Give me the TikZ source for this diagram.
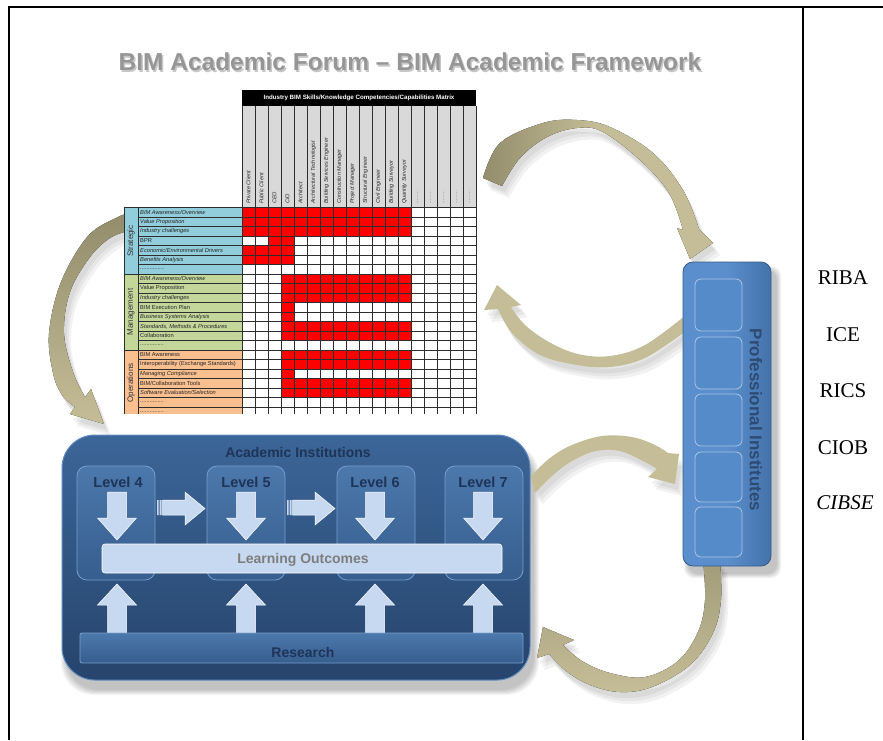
\documentclass[tikz,border=0pt]{standalone}
\usepackage{fontspec}
\setmainfont{Liberation Sans}
\newfontfamily\serifrm{Liberation Serif}
\newcommand\myfs[1]{\fontsize{#1}{#1}\selectfont}
\definecolor{arrL}{RGB}{196,189,151}
\definecolor{arrD}{RGB}{148,141,108}
\definecolor{aiTop}{RGB}{60,102,152}
\definecolor{aiBot}{RGB}{38,68,108}
\definecolor{aiEdge}{RGB}{96,140,192}
\definecolor{lvlTop}{RGB}{76,120,172}
\definecolor{lvlBot}{RGB}{54,94,142}
\definecolor{lvlEdge}{RGB}{120,158,204}
\definecolor{pale}{RGB}{198,217,241}
\definecolor{navy}{RGB}{30,52,88}
\definecolor{piTop}{RGB}{90,142,204}
\definecolor{piBot}{RGB}{68,114,170}
\definecolor{piSub}{RGB}{86,139,201}
\definecolor{piEdge}{RGB}{172,198,234}
\definecolor{piText}{RGB}{44,74,114}
\definecolor{ttl}{RGB}{150,150,150}
\definecolor{strat}{RGB}{146,205,220}
\definecolor{mgmt}{RGB}{196,215,155}
\definecolor{oper}{RGB}{250,191,143}
\definecolor{hdrg}{RGB}{217,217,217}
\definecolor{gridc}{RGB}{45,45,45}
\definecolor{cellred}{RGB}{255,0,0}
\definecolor{logray}{RGB}{125,125,125}
% curved arrows
\newcommand\arrA[1]{\fill[#1] plot[smooth,tension=0.6] coordinates {(483,178) (500,143) (543,123) (577,120) (610,127) (653,153) (683,190) (699,229)} -- (713,243) -- (690,259) -- (677,228) -- plot[smooth,tension=0.6] coordinates {(683,230) (669,193) (641,161) (603,132) (577,128) (547,137) (520,158) (502,186)} -- cycle;}
\newcommand\arrB[1]{\fill[#1] plot[smooth,tension=0.6] coordinates {(686,331) (645,358) (610,367) (577,365) (540,355) (512,333) (498,309)} -- (484,310) -- (497,285) -- (521,305) -- plot[smooth,tension=0.6] coordinates {(511,307) (525,325) (549,342) (578,354) (610,356) (645,345) (686,315)} -- cycle;}
\newcommand\arrC[1]{\fill[#1] plot[smooth,tension=0.6] coordinates {(531,476) (550,458) (572,445) (602,436) (632,437) (655,445) (668,453)} -- (679,454) -- (675,484) -- (648,477) -- plot[smooth,tension=0.6] coordinates {(657,469) (645,462) (620,451) (596,451) (572,461) (552,476) (535,493)} -- cycle;}
\newcommand\arrD[1]{\fill[#1] plot[smooth,tension=0.6] coordinates {(720,560) (721,600) (713,633) (690,665) (652,687) (620,692) (590,685) (566,671) (549,654)} -- (537,658) -- (543,627) -- (574,640) -- plot[smooth,tension=0.6] coordinates {(563,645) (582,661) (610,673) (645,677) (678,661) (698,632) (705,600) (703,560)} -- cycle;}
\newcommand\arrE[1]{\fill[#1] plot[smooth,tension=0.6] coordinates {(128,214) (118,217) (88,236) (61,282) (49,333) (53,373) (62,395) (75,407)} -- (70,414) -- (104,424) -- (91,389) -- plot[smooth,tension=0.6] coordinates {(85,397) (73,372) (64,333) (70,292) (90,257) (110,238) (128,231)} -- cycle;}
\newcommand\arrShadow[1]{%
  #1{black,opacity=0.05,shift={(3,6)}}%
  #1{black,opacity=0.05,shift={(5,9)}}%
  #1{black,opacity=0.05,shift={(7,12)}}}
% block arrows
\newcommand\dnarr[1]{\fill[pale,draw=white,line width=0.5] ({#1-9.5},492) -- ({#1+9.5},492) -- ({#1+9.5},518) -- ({#1+19.5},518) -- (#1,540) -- ({#1-19.5},518) -- ({#1-9.5},518) -- cycle;}
\newcommand\uparr[1]{\fill[pale,draw=white,line width=0.5] ({#1-9.5},633) -- ({#1+9.5},633) -- ({#1+9.5},605) -- ({#1+19.5},605) -- (#1,584) -- ({#1-19.5},605) -- ({#1-9.5},605) -- cycle;}
\newcommand\rtarr[1]{\fill[pale] (#1,500) rectangle ({#1+1.5},515) ({#1+2.5},500) rectangle ({#1+4.5},515);
  \fill[pale,draw=white,line width=0.5] ({#1+5.5},500) -- ({#1+28},500) -- ({#1+28},492) -- ({#1+48},508.5) -- ({#1+28},525) -- ({#1+28},515) -- ({#1+5.5},515) -- cycle;}
\newcommand\rowlab[3][rowlab]{\node[#1] (rl#2) at (140,{207.7+9.49*(#2+0.5)}) {#3};}
\begin{document}
\begin{tikzpicture}[x=1pt,y=-1pt,
  rowlab/.style={anchor=west,inner sep=0,font=\itshape\myfs{5.7},text=black!85},
  rowlabu/.style={anchor=west,inner sep=0,font=\myfs{5.7},text=black!85},
  collab/.style={anchor=west,rotate=90,inner sep=0,font=\itshape\myfs{5.5},text=black!85},
  dotlab/.style={anchor=west,rotate=90,inner sep=0,font=\myfs{5.4},text=black!50},
  catlab/.style={rotate=90,inner sep=0,font=\myfs{8},text=black!80},
  gridl/.style={draw=gridc,line width=0.75},
  aibox/.style={draw=aiEdge,line width=1,top color=aiTop,bottom color=aiBot,rounded corners=33,minimum width=468,minimum height=245,inner sep=0},
  lvlbox/.style={draw=lvlEdge,line width=0.8,top color=lvlTop,bottom color=lvlBot,rounded corners=10,minimum width=78,minimum height=114,inner sep=0},
  lvltxt/.style={font=\bfseries\myfs{14.5},text=navy,inner sep=0},
  pibox/.style={draw=piBot!80!black,line width=0.8,left color=piTop,right color=piBot,middle color=piTop,rounded corners=10,minimum width=88,minimum height=304,inner sep=0},
  pisub/.style={draw=piEdge,line width=0.8,fill=piSub,rounded corners=6,minimum width=47,inner sep=0},
  rtxt/.style={font=\serifrm\myfs{21},inner sep=0}]
\useasboundingbox (0,0) rectangle (883,740);
% frame
\draw[line width=1.6] (8,7) -- (883,7);
\draw[line width=1.6] (9,7) -- (9,740);
\draw[line width=1.6] (803,7) -- (803,740);
% title
\node[text=black!22,font=\bfseries\myfs{24.5},inner sep=0] (titlesh) at (411.5,63.5) {BIM Academic Forum \textendash{} BIM Academic Framework};
\node[text=ttl,font=\bfseries\myfs{24.5},inner sep=0] (title) at (410,62) {BIM Academic Forum \textendash{} BIM Academic Framework};
% box shadows
\foreach \k in {0,...,5}
  \fill[black,opacity=0.045,rounded corners=33] ({66-\k},{447-\k}) rectangle ({534+\k},{690+\k});
\foreach \k in {0,...,4}
  \fill[black,opacity=0.05,rounded corners=10] ({688-\k},{270-\k}) rectangle ({777+\k},{574+\k});
% curved arrows (left one under the matrix)
\arrShadow\arrE
\arrE{top color=arrD,bottom color=arrL}
% matrix
\begin{scope}
\clip (120,85) rectangle (480,413);
\fill[white] (124,90) rectangle (476,413);
\fill[black] (242,90) rectangle (476,106);
\fill[hdrg] (242,106) rectangle (476,207.7);
\fill[strat] (124,207.7) rectangle (242,274.13);
\fill[mgmt] (124,274.13) rectangle (242,350.05);
\fill[oper] (124,350.05) rectangle (242,420);
\foreach \r/\a/\b in {0/1/13,1/1/13,2/1/13,3/3/4,4/1/4,5/1/4,7/4/13,8/4/13,9/4/13,10/4/4,11/4/4,12/4/13,13/4/13,15/4/13,16/4/13,17/4/4,18/4/13,19/4/13}
  \fill[cellred] ({242+13*(\a-1)},{207.7+9.49*\r}) rectangle ({242+13*\b},{207.7+9.49*(\r+1)});
\foreach \k in {0,...,22} \draw[gridl] (138,{207.7+9.49*\k}) -- (476,{207.7+9.49*\k});
\foreach \i in {0,...,18} \draw[gridl] ({242+13*\i},106) -- ({242+13*\i},420);
\draw[gridl] (124,207.7) -- (138,207.7) (124,274.13) -- (138,274.13) (124,350.05) -- (138,350.05);
\draw[gridl] (124,207.7) -- (124,420) (138,207.7) -- (138,420);
\node[text=white,font=\bfseries\myfs{6.2},inner sep=0] (mtx) at (359,98) {Industry BIM Skills/Knowledge Competencies/Capabilities Matrix};
\node[catlab] (catS) at (131,241) {Strategic};
\node[catlab] (catM) at (131,312) {Management};
\node[catlab] (catO) at (131,383) {Operations};
\rowlab{0}{BIM Awareness/Overview}
\rowlab{1}{Value Proposition}
\rowlab{2}{Industry challenges}
\rowlab[rowlabu]{3}{BPR}
\rowlab{4}{Economic/Environmental Drivers}
\rowlab{5}{Benefits Analysis}
\rowlab[rowlabu]{6}{...............}
\rowlab{7}{BIM Awareness/Overview}
\rowlab[rowlabu]{8}{Value Proposition}
\rowlab{9}{Industry challenges}
\rowlab[rowlabu]{10}{BIM Execution Plan}
\rowlab{11}{Business Systems Analysis}
\rowlab{12}{Standards, Methods \& Procedures}
\rowlab[rowlabu]{13}{Collaboration}
\rowlab[rowlabu]{14}{...............}
\rowlab[rowlabu]{15}{BIM Awareness}
\rowlab[rowlabu]{16}{Interoperability (Exchange Standards)}
\rowlab{17}{Managing Compliance}
\rowlab[rowlabu]{18}{BIM/Collaboration Tools}
\rowlab{19}{Software Evaluation/Selection}
\rowlab[rowlabu]{20}{...............}
\rowlab[rowlabu]{21}{...............}
\foreach \i/\t in {1/Private Client,2/Public Client,3/CEO,4/CIO,5/Architect,6/Architectural Technologist,7/Building Services Engineer,8/Construction Manager,9/Project Manager,10/Structural Engineer,11/Civil Engineer,12/Building Surveyor,13/Quantity Surveyor}
  \node[collab] (ch\i) at ({242+13*(\i-0.5)},204) {\t};
\foreach \i in {14,...,18}
  \node[dotlab] (ch\i) at ({242+13*(\i-0.5)},204) {.........};
\end{scope}
% other curved arrows
\arrShadow\arrA
\arrA{left color=arrD,right color=arrL,middle color=arrL}
\arrShadow\arrB
\arrB{arrL}
\arrShadow\arrC
\arrC{arrL}
\arrShadow\arrD
\arrD{top color=arrD!70!arrL,bottom color=arrL}
% Academic Institutions
\node[aibox] (ai) at (296,557.5) {};
\node[font=\bfseries\myfs{14},text=navy,inner sep=0] (aitxt) at (298,452) {Academic Institutions};
\node[lvlbox] (lv4) at (116,523) {};
\node[lvlbox] (lv5) at (246,523) {};
\node[lvlbox] (lv6) at (376,523) {};
\node[lvlbox] (lv7) at (484,523) {};
\node[lvltxt] (lt4) at (118,482) {Level 4};
\node[lvltxt] (lt5) at (246,482) {Level 5};
\node[lvltxt] (lt6) at (375,482) {Level 6};
\node[lvltxt] (lt7) at (483,482) {Level 7};
\dnarr{117}\dnarr{246}\dnarr{375}\dnarr{483}
\rtarr{157}\rtarr{287}
\node[fill=pale,draw=white,line width=0.6,rounded corners=3,minimum width=400,minimum height=29,inner sep=0] (lo) at (302,558.5) {};
\node[font=\bfseries\myfs{14},text=logray,inner sep=0] (lotxt) at (303,560) {Learning Outcomes};
\uparr{117}\uparr{246}\uparr{375}\uparr{483}
\node[draw=lvlEdge,line width=0.8,top color=lvlTop,bottom color=lvlBot,rounded corners=2,minimum width=443,minimum height=30,inner sep=0] (res) at (301.5,648) {};
\node[font=\bfseries\myfs{14},text=navy,inner sep=0] (restxt) at (303,652) {Research};
% Professional Institutes
\node[pibox] (pi) at (727,414) {};
\node[pisub,minimum height=52] (pi1) at (718.5,305) {};
\node[pisub,minimum height=52] (pi2) at (718.5,363) {};
\node[pisub,minimum height=52] (pi3) at (718.5,420) {};
\node[pisub,minimum height=50] (pi4) at (718.5,477) {};
\node[pisub,minimum height=50] (pi5) at (718.5,532) {};
\node[font=\bfseries\myfs{17},text=piText,rotate=-90,inner sep=0] (pitxt) at (756,420) {Professional Institutes};
% right column
\node[rtxt] (riba) at (843,277.5) {RIBA};
\node[rtxt] (ice) at (843,335) {ICE};
\node[rtxt] (rics) at (843,390.5) {RICS};
\node[rtxt] (ciob) at (843,448) {CIOB};
\node[rtxt,font=\serifrm\itshape\myfs{21}] (cibse) at (845,503) {CIBSE};
\end{tikzpicture}
\end{document}
